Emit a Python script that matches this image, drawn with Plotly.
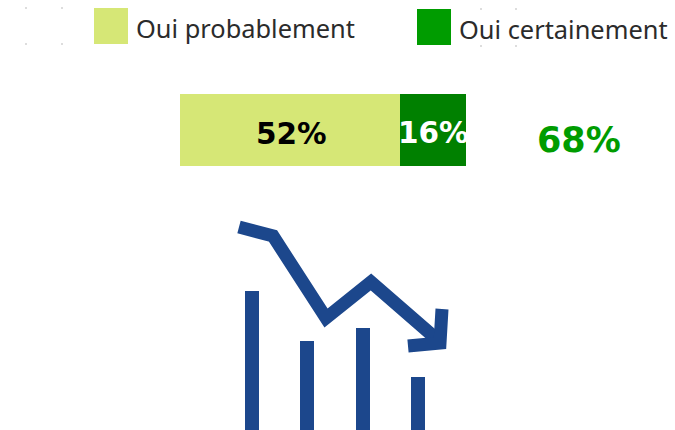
import plotly.graph_objects as go

W, H = 675, 430

# Stacked bar
series_names = ["Oui probablement", "Oui certainement"]
series_values = [52.4, 15.7]
total_label = "68%"
bar_category = ["Intention"]

# Icon (read in picture units, y measured up from the bottom edge)
icon_bar_x = [252, 307, 363, 418]
icon_bar_top = [139, 89, 102, 53]
icon_line_x = [239, 273, 326, 371, 440]
icon_line_y = [203, 194, 112, 148, 88]
icon_head_x = [408, 440, 442]
icon_head_y = [84, 87, 121]

# Faint specks beside the legend
speck_x = [26, 62, 26, 62, 481, 516, 481, 516]
speck_y = [422, 422, 386, 386, 421, 421, 384, 384]

LIGHT, DARK, LEGEND_DARK, BLUE = "#D6E776", "#008000", "#009C00", "#1C478C"
LABEL_FONT = "DejaVu Sans"
LEGEND_FONT = "Noto Sans"

fig = go.Figure()

text_colors = ["#000000", "#FFFFFF"]
for name, value, color in zip(series_names, series_values, [LIGHT, DARK]):
    fig.add_trace(go.Bar(
        x=[value], y=bar_category, orientation="h", name=name, marker=dict(color=color, line_width=0),
        showlegend=False,
    ))

fig.add_trace(go.Bar(x=icon_bar_x, y=icon_bar_top, width=14, marker=dict(color=BLUE, line_width=0),
                     xaxis="x2", yaxis="y2", showlegend=False))
fig.add_trace(go.Scatter(x=icon_line_x, y=icon_line_y, mode="lines", line=dict(color=BLUE, width=13),
                         xaxis="x2", yaxis="y2", showlegend=False))
fig.add_trace(go.Scatter(x=icon_head_x, y=icon_head_y, mode="lines", line=dict(color=BLUE, width=13),
                         xaxis="x2", yaxis="y2", showlegend=False))
fig.add_trace(go.Scatter(x=speck_x, y=speck_y, mode="markers", marker=dict(color="#DDDDDD", size=2, symbol="square"),
                         xaxis="x2", yaxis="y2", showlegend=False))

def swatch(x0, x1, y0, y1, color):
    return dict(type="rect", xref="x2", yref="y2", x0=x0, x1=x1, y0=H - y1, y1=H - y0,
                fillcolor=color, line_width=0)

def label(x, y, text, font, anchor="left"):
    return dict(x=x, y=H - y, xref="x2", yref="y2", text=text, showarrow=False,
                xanchor=anchor, yanchor="middle", font=font)

def bar_label(start, value, color, xshift, yshift):
    return dict(x=start + value / 2, y=0, xref="x", yref="y", text=f"{round(value)}%", showarrow=False,
                xanchor="center", yanchor="middle", xshift=xshift, yshift=yshift,
                font=dict(family=LABEL_FONT, size=29.5, color=color, weight="bold"))

legend_font = dict(family=LEGEND_FONT, size=25.4, color="#2B2B2B")
fig.update_layout(
    width=W, height=H, margin=dict(l=0, r=0, t=0, b=0), autosize=False,
    paper_bgcolor="white", plot_bgcolor="rgba(0,0,0,0)", barmode="stack", bargap=0,
    xaxis=dict(range=[-180 / 4.2, (W - 180) / 4.2], domain=[0, 1], visible=False, fixedrange=True),
    yaxis=dict(type="category", range=[-0.5, 0.5], domain=[(H - 166) / H, (H - 94) / H], visible=False, fixedrange=True),
    xaxis2=dict(range=[0, W], domain=[0, 1], visible=False, anchor="y2", fixedrange=True),
    yaxis2=dict(range=[0, H], domain=[0, 1], visible=False, anchor="x2", fixedrange=True),
    shapes=[swatch(94, 128, 8, 44, LIGHT), swatch(417, 451, 9, 45, LEGEND_DARK)],
    annotations=[
        label(134, 28, series_names[0], legend_font),
        label(457, 29, series_names[1], legend_font),
        label(578.5, 140, total_label, dict(family=LABEL_FONT, size=35, color=LEGEND_DARK, weight="bold"), "center"),
        bar_label(0, series_values[0], text_colors[0], 1, -4),
        bar_label(series_values[0], series_values[1], text_colors[1], 0, -3),
    ],
)

fig.write_html("out.html", config={"displayModeBar": False},
               post_script="document.body.style.margin='0';document.documentElement.style.overflow='hidden';")
